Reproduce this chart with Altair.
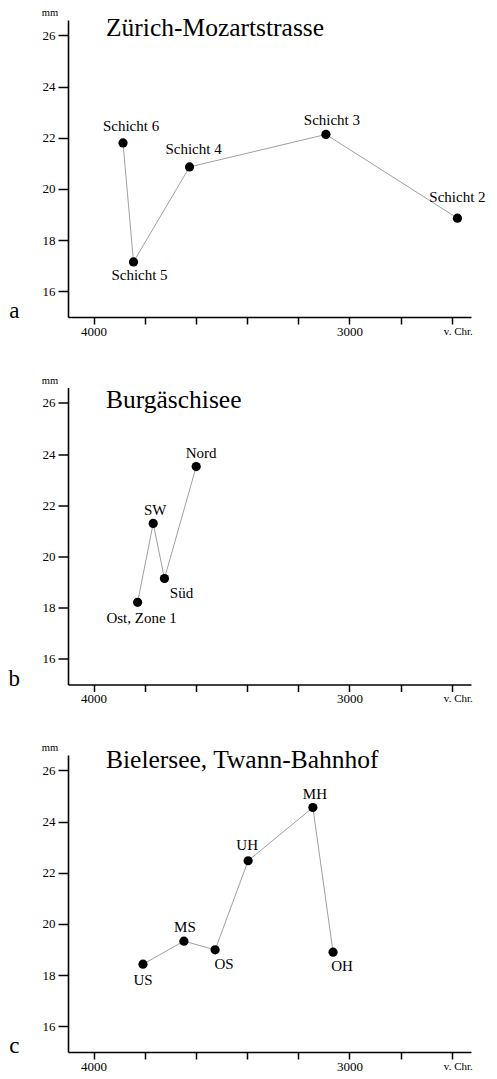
import altair as alt
import pandas as pd

# ---- data ----
a_labels = ["Schicht 6", "Schicht 5", "Schicht 4", "Schicht 3", "Schicht 2"]
a_years = [3885, 3844, 3625, 3092, 2578]
a_mm = [21.8, 17.15, 20.86, 22.13, 18.86]

b_labels = ["Ost, Zone 1", "SW", "Süd", "Nord"]
b_years = [3828, 3767, 3723, 3599]
b_mm = [18.21, 21.29, 19.14, 23.51]

c_labels = ["US", "MS", "OS", "UH", "MH", "OH"]
c_years = [3807, 3647, 3525, 3396, 3143, 3064]
c_mm = [18.43, 19.33, 18.99, 22.47, 24.55, 18.9]

titles = ["Zürich-Mozartstrasse", "Burgäschisee", "Bielersee, Twann-Bahnhof"]
letters = ["a", "b", "c"]
y_ticks = [16, 18, 20, 22, 24, 26]
x_ticks = [4000, 3800, 3600, 3400, 3200, 3000, 2800, 2600]

# ---- layout ----
SERIF = "Liberation Serif"
W, H = 403, 297
X_DOM = [4100, 2525]
Y_DOM = [15, 26.6]
PX_PER_YEAR = W / (X_DOM[0] - X_DOM[1])
PX_PER_MM = H / (Y_DOM[1] - Y_DOM[0])

# label offsets in pixels (dx, dy to baseline)
LABEL_OFFSET = {
    "Schicht 6": (8, -12), "Schicht 5": (6, 18), "Schicht 4": (4, -13),
    "Schicht 3": (6, -9), "Schicht 2": (0, -16),
    "Ost, Zone 1": (4, 21), "SW": (2, -8), "Süd": (17, 19), "Nord": (5, -9),
    "US": (0, 21), "MS": (1, -9), "OS": (9, 19), "UH": (-1, -11),
    "MH": (2, -8), "OH": (9, 19),
}
TITLE_Y = [15.5, 20, 13]

x_label_expr = ("datum.value == 4000 ? '4000' : datum.value == 3000 ? '3000' : "
                "datum.value == 2600 ? 'v. Chr.' : ''")


def panel(labels, years, mm, title, letter, title_y):
    df = pd.DataFrame({"label": labels, "year": years, "mm": mm})
    df["dx"] = [LABEL_OFFSET[l][0] for l in labels]
    df["dy"] = [LABEL_OFFSET[l][1] for l in labels]

    x_axis = alt.Axis(
        values=x_ticks, labelExpr=x_label_expr, title=None, grid=False,
        tickSize=7, tickWidth=1.5, tickColor="black",
        domainColor="black", domainWidth=1.6,
        labelFont=SERIF, labelColor="black", labelPadding=1,
        labelFontSize={"condition": {"test": "datum.value == 2600", "value": 11}, "value": 13},
        labelOffset={"condition": {"test": "datum.value == 2600", "value": 6}, "value": 0},
        labelFlush=False, labelOverlap=False,
    )
    y_axis = alt.Axis(
        values=y_ticks, title=None, grid=False,
        tickSize=10, tickWidth=1.5, tickColor="black",
        domainColor="black", domainWidth=1.6,
        labelFont=SERIF, labelColor="black", labelFontSize=13, labelPadding=3,
    )
    xs = alt.Scale(domain=X_DOM, nice=False, zero=False)
    ys = alt.Scale(domain=Y_DOM, nice=False, zero=False)

    base = alt.Chart(df)
    line = base.mark_line(color="#a0a0a0", strokeWidth=1).encode(
        x=alt.X("year:Q", scale=xs, axis=x_axis),
        y=alt.Y("mm:Q", scale=ys, axis=y_axis),
    )
    pts = base.mark_circle(size=85, color="black", opacity=1).encode(
        x=alt.X("year:Q", scale=xs),
        y=alt.Y("mm:Q", scale=ys),
    )
    txt = base.transform_calculate(
        lx=f"datum.year - datum.dx / {PX_PER_YEAR}",
        ly=f"datum.mm - datum.dy / {PX_PER_MM}",
    ).mark_text(font=SERIF, fontSize=15, color="black", align="center",
                baseline="alphabetic").encode(
        x=alt.X("lx:Q", scale=xs),
        y=alt.Y("ly:Q", scale=ys),
        text="label:N",
    )
    ttl = alt.Chart(pd.DataFrame({"t": [title]})).mark_text(
        font=SERIF, fontSize=25.5, color="black", align="left", baseline="alphabetic"
    ).encode(x=alt.value(38), y=alt.value(title_y), text="t:N")
    unit = alt.Chart(pd.DataFrame({"t": ["mm"]})).mark_text(
        font=SERIF, fontSize=10.5, color="black", align="center", baseline="alphabetic"
    ).encode(x=alt.value(-18), y=alt.value(-3.8), text="t:N")
    let = alt.Chart(pd.DataFrame({"t": [letter]})).mark_text(
        font=SERIF, fontSize=23, color="black", align="center", baseline="alphabetic"
    ).encode(x=alt.value(-53.7), y=alt.value(298), text="t:N")

    return alt.layer(line, pts, txt, ttl, unit, let).properties(width=W, height=H)


pa = panel(a_labels, a_years, a_mm, titles[0], letters[0], TITLE_Y[0])
pb = panel(b_labels, b_years, b_mm, titles[1], letters[1], TITLE_Y[1])
pc = panel(c_labels, c_years, c_mm, titles[2], letters[2], TITLE_Y[2])

chart = alt.vconcat(pa, pb, pc, spacing=70.5, bounds="flush").properties(
    padding={"left": 0, "top": 0, "right": 0, "bottom": 2},
    background="white",
).configure_view(strokeWidth=0, stroke="transparent")

chart.save("out.html", embed_options={"renderer": "svg", "actions": False})
